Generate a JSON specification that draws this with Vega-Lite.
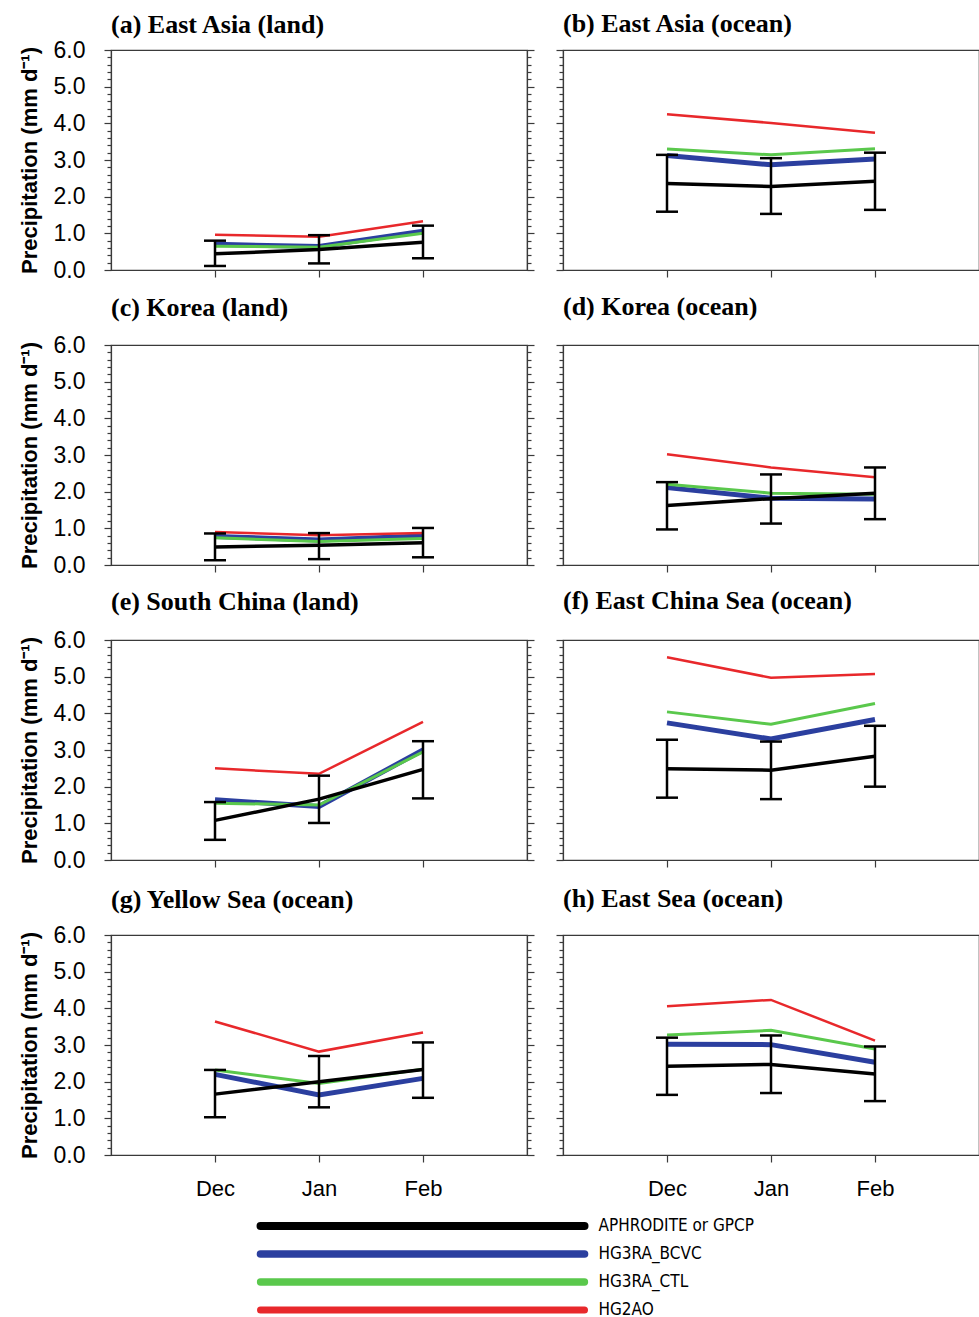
{
  "$schema": "https://vega.github.io/schema/vega-lite/v6.json",
  "padding": {"left": 17, "top": 10, "right": 0, "bottom": 0},
  "background": "white",
  "datasets": {
    "d": [
      {"p":"a","m":"Dec","s":"APHRODITE or GPCP","v":0.44},{"p":"a","m":"Jan","s":"APHRODITE or GPCP","v":0.56},{"p":"a","m":"Feb","s":"APHRODITE or GPCP","v":0.76},
      {"p":"a","m":"Dec","s":"HG3RA_BCVC","v":0.70},{"p":"a","m":"Jan","s":"HG3RA_BCVC","v":0.64},{"p":"a","m":"Feb","s":"HG3RA_BCVC","v":1.06},
      {"p":"a","m":"Dec","s":"HG3RA_CTL","v":0.65},{"p":"a","m":"Jan","s":"HG3RA_CTL","v":0.62},{"p":"a","m":"Feb","s":"HG3RA_CTL","v":1.00},
      {"p":"a","m":"Dec","s":"HG2AO","v":0.96},{"p":"a","m":"Jan","s":"HG2AO","v":0.91},{"p":"a","m":"Feb","s":"HG2AO","v":1.33},
      {"p":"a","m":"Dec","s":"err","lo":0.11,"hi":0.80},{"p":"a","m":"Jan","s":"err","lo":0.18,"hi":0.95},{"p":"a","m":"Feb","s":"err","lo":0.32,"hi":1.21},

      {"p":"b","m":"Dec","s":"APHRODITE or GPCP","v":2.36},{"p":"b","m":"Jan","s":"APHRODITE or GPCP","v":2.28},{"p":"b","m":"Feb","s":"APHRODITE or GPCP","v":2.42},
      {"p":"b","m":"Dec","s":"HG3RA_BCVC","v":3.12},{"p":"b","m":"Jan","s":"HG3RA_BCVC","v":2.87},{"p":"b","m":"Feb","s":"HG3RA_BCVC","v":3.03},
      {"p":"b","m":"Dec","s":"HG3RA_CTL","v":3.30},{"p":"b","m":"Jan","s":"HG3RA_CTL","v":3.14},{"p":"b","m":"Feb","s":"HG3RA_CTL","v":3.31},
      {"p":"b","m":"Dec","s":"HG2AO","v":4.25},{"p":"b","m":"Jan","s":"HG2AO","v":4.01},{"p":"b","m":"Feb","s":"HG2AO","v":3.74},
      {"p":"b","m":"Dec","s":"err","lo":1.59,"hi":3.14},{"p":"b","m":"Jan","s":"err","lo":1.53,"hi":3.05},{"p":"b","m":"Feb","s":"err","lo":1.64,"hi":3.20},

      {"p":"c","m":"Dec","s":"APHRODITE or GPCP","v":0.49},{"p":"c","m":"Jan","s":"APHRODITE or GPCP","v":0.54},{"p":"c","m":"Feb","s":"APHRODITE or GPCP","v":0.61},
      {"p":"c","m":"Dec","s":"HG3RA_BCVC","v":0.78},{"p":"c","m":"Jan","s":"HG3RA_BCVC","v":0.68},{"p":"c","m":"Feb","s":"HG3RA_BCVC","v":0.79},
      {"p":"c","m":"Dec","s":"HG3RA_CTL","v":0.74},{"p":"c","m":"Jan","s":"HG3RA_CTL","v":0.64},{"p":"c","m":"Feb","s":"HG3RA_CTL","v":0.72},
      {"p":"c","m":"Dec","s":"HG2AO","v":0.90},{"p":"c","m":"Jan","s":"HG2AO","v":0.81},{"p":"c","m":"Feb","s":"HG2AO","v":0.87},
      {"p":"c","m":"Dec","s":"err","lo":0.13,"hi":0.86},{"p":"c","m":"Jan","s":"err","lo":0.16,"hi":0.87},{"p":"c","m":"Feb","s":"err","lo":0.21,"hi":1.01},

      {"p":"d","m":"Dec","s":"APHRODITE or GPCP","v":1.62},{"p":"d","m":"Jan","s":"APHRODITE or GPCP","v":1.81},{"p":"d","m":"Feb","s":"APHRODITE or GPCP","v":1.96},
      {"p":"d","m":"Dec","s":"HG3RA_BCVC","v":2.11},{"p":"d","m":"Jan","s":"HG3RA_BCVC","v":1.82},{"p":"d","m":"Feb","s":"HG3RA_BCVC","v":1.80},
      {"p":"d","m":"Dec","s":"HG3RA_CTL","v":2.20},{"p":"d","m":"Jan","s":"HG3RA_CTL","v":1.96},{"p":"d","m":"Feb","s":"HG3RA_CTL","v":1.93},
      {"p":"d","m":"Dec","s":"HG2AO","v":3.02},{"p":"d","m":"Jan","s":"HG2AO","v":2.66},{"p":"d","m":"Feb","s":"HG2AO","v":2.39},
      {"p":"d","m":"Dec","s":"err","lo":0.97,"hi":2.26},{"p":"d","m":"Jan","s":"err","lo":1.13,"hi":2.47},{"p":"d","m":"Feb","s":"err","lo":1.25,"hi":2.66},

      {"p":"e","m":"Dec","s":"APHRODITE or GPCP","v":1.08},{"p":"e","m":"Jan","s":"APHRODITE or GPCP","v":1.66},{"p":"e","m":"Feb","s":"APHRODITE or GPCP","v":2.47},
      {"p":"e","m":"Dec","s":"HG3RA_BCVC","v":1.64},{"p":"e","m":"Jan","s":"HG3RA_BCVC","v":1.46},{"p":"e","m":"Feb","s":"HG3RA_BCVC","v":3.00},
      {"p":"e","m":"Dec","s":"HG3RA_CTL","v":1.55},{"p":"e","m":"Jan","s":"HG3RA_CTL","v":1.50},{"p":"e","m":"Feb","s":"HG3RA_CTL","v":2.95},
      {"p":"e","m":"Dec","s":"HG2AO","v":2.50},{"p":"e","m":"Jan","s":"HG2AO","v":2.35},{"p":"e","m":"Feb","s":"HG2AO","v":3.77},
      {"p":"e","m":"Dec","s":"err","lo":0.55,"hi":1.58},{"p":"e","m":"Jan","s":"err","lo":1.01,"hi":2.30},{"p":"e","m":"Feb","s":"err","lo":1.68,"hi":3.24},

      {"p":"f","m":"Dec","s":"APHRODITE or GPCP","v":2.49},{"p":"f","m":"Jan","s":"APHRODITE or GPCP","v":2.45},{"p":"f","m":"Feb","s":"APHRODITE or GPCP","v":2.83},
      {"p":"f","m":"Dec","s":"HG3RA_BCVC","v":3.74},{"p":"f","m":"Jan","s":"HG3RA_BCVC","v":3.30},{"p":"f","m":"Feb","s":"HG3RA_BCVC","v":3.83},
      {"p":"f","m":"Dec","s":"HG3RA_CTL","v":4.04},{"p":"f","m":"Jan","s":"HG3RA_CTL","v":3.70},{"p":"f","m":"Feb","s":"HG3RA_CTL","v":4.27},
      {"p":"f","m":"Dec","s":"HG2AO","v":5.53},{"p":"f","m":"Jan","s":"HG2AO","v":4.97},{"p":"f","m":"Feb","s":"HG2AO","v":5.07},
      {"p":"f","m":"Dec","s":"err","lo":1.70,"hi":3.28},{"p":"f","m":"Jan","s":"err","lo":1.66,"hi":3.23},{"p":"f","m":"Feb","s":"err","lo":2.00,"hi":3.66},

      {"p":"g","m":"Dec","s":"APHRODITE or GPCP","v":1.66},{"p":"g","m":"Jan","s":"APHRODITE or GPCP","v":2.00},{"p":"g","m":"Feb","s":"APHRODITE or GPCP","v":2.33},
      {"p":"g","m":"Dec","s":"HG3RA_BCVC","v":2.20},{"p":"g","m":"Jan","s":"HG3RA_BCVC","v":1.64},{"p":"g","m":"Feb","s":"HG3RA_BCVC","v":2.09},
      {"p":"g","m":"Dec","s":"HG3RA_CTL","v":2.32},{"p":"g","m":"Jan","s":"HG3RA_CTL","v":1.95},{"p":"g","m":"Feb","s":"HG3RA_CTL","v":2.34},
      {"p":"g","m":"Dec","s":"HG2AO","v":3.64},{"p":"g","m":"Jan","s":"HG2AO","v":2.82},{"p":"g","m":"Feb","s":"HG2AO","v":3.34},
      {"p":"g","m":"Dec","s":"err","lo":1.03,"hi":2.32},{"p":"g","m":"Jan","s":"err","lo":1.30,"hi":2.70},{"p":"g","m":"Feb","s":"err","lo":1.56,"hi":3.07},

      {"p":"h","m":"Dec","s":"APHRODITE or GPCP","v":2.42},{"p":"h","m":"Jan","s":"APHRODITE or GPCP","v":2.47},{"p":"h","m":"Feb","s":"APHRODITE or GPCP","v":2.21},
      {"p":"h","m":"Dec","s":"HG3RA_BCVC","v":3.02},{"p":"h","m":"Jan","s":"HG3RA_BCVC","v":3.01},{"p":"h","m":"Feb","s":"HG3RA_BCVC","v":2.53},
      {"p":"h","m":"Dec","s":"HG3RA_CTL","v":3.27},{"p":"h","m":"Jan","s":"HG3RA_CTL","v":3.40},{"p":"h","m":"Feb","s":"HG3RA_CTL","v":2.89},
      {"p":"h","m":"Dec","s":"HG2AO","v":4.06},{"p":"h","m":"Jan","s":"HG2AO","v":4.23},{"p":"h","m":"Feb","s":"HG2AO","v":3.12},
      {"p":"h","m":"Dec","s":"err","lo":1.64,"hi":3.20},{"p":"h","m":"Jan","s":"err","lo":1.69,"hi":3.26},{"p":"h","m":"Feb","s":"err","lo":1.47,"hi":2.96}
    ],
    "leg": [{"s":"APHRODITE or GPCP"},{"s":"HG3RA_BCVC"},{"s":"HG3RA_CTL"},{"s":"HG2AO"}]
  },
  "vconcat": [
    {
      "columns": 2,
      "spacing": {"row": 75, "column": 36},
      "bounds": "flush",
      "concat": [
        {
          "title": {"text": "(a) East Asia (land)", "offset": 1},
          "width": 416, "height": 220,
          "data": {"name": "d"},
          "transform": [{"filter": "datum.p === 'a'"}],
          "resolve": {"axis": {"x": "independent", "y": "independent"}},
          "layer": [
            {"transform": [{"filter": "datum.s === 'HG3RA_BCVC'"}], "mark": {"type": "line", "color": "#2b3f9f", "strokeWidth": 5},
             "encoding": {
               "x": {"field": "m", "type": "ordinal", "sort": ["Dec","Jan","Feb"], "scale": {"type": "point", "padding": 1}, "axis": {"orient": "bottom", "labels": false, "title": null, "tickSize": 7}},
               "y": {"field": "v", "type": "quantitative", "scale": {"domain": [0,6], "nice": false}, "axis": {"orient": "left", "values": [0,0.2,0.4,0.6,0.8,1,1.2,1.4,1.6,1.8,2,2.2,2.4,2.6,2.8,3,3.2,3.4,3.6,3.8,4,4.2,4.4,4.6,4.8,5,5.2,5.4,5.6,5.8,6], "labelExpr": "datum.value % 1 === 0 ? format(datum.value, '.1f') : ''", "labelOverlap": false, "labelPadding": 19, "tickSize": {"condition": {"test": "datum.value % 1 === 0", "value": 7}, "value": 4}, "title": "Precipitation (mm d⁻¹)", "titlePadding": 12}}}},
            {"transform": [{"filter": "datum.s === 'HG3RA_CTL'"}], "mark": {"type": "line", "color": "#5ac84c", "strokeWidth": 3},
             "encoding": {"x": {"field": "m", "type": "ordinal", "sort": ["Dec","Jan","Feb"], "scale": {"type": "point", "padding": 1}, "axis": null}, "y": {"field": "v", "type": "quantitative", "scale": {"domain": [0,6], "nice": false}, "axis": null}}},
            {"transform": [{"filter": "datum.s === 'HG2AO'"}], "mark": {"type": "line", "color": "#e8282b", "strokeWidth": 2.5},
             "encoding": {"x": {"field": "m", "type": "ordinal", "sort": ["Dec","Jan","Feb"], "scale": {"type": "point", "padding": 1}, "axis": null}, "y": {"field": "v", "type": "quantitative", "scale": {"domain": [0,6], "nice": false}, "axis": null}}},
            {"transform": [{"filter": "datum.s === 'APHRODITE or GPCP'"}], "mark": {"type": "line", "color": "#000000", "strokeWidth": 3.5},
             "encoding": {"x": {"field": "m", "type": "ordinal", "sort": ["Dec","Jan","Feb"], "scale": {"type": "point", "padding": 1}, "axis": null}, "y": {"field": "v", "type": "quantitative", "scale": {"domain": [0,6], "nice": false}, "axis": null}}},
            {"transform": [{"filter": "datum.s === 'err'"}], "mark": {"type": "rule", "color": "#000000", "strokeWidth": 2.5},
             "encoding": {"x": {"field": "m", "type": "ordinal", "sort": ["Dec","Jan","Feb"], "scale": {"type": "point", "padding": 1}, "axis": null}, "y": {"field": "lo", "type": "quantitative", "scale": {"domain": [0,6], "nice": false}, "axis": null}, "y2": {"field": "hi"}}},
            {"transform": [{"filter": "datum.s === 'err'"}], "mark": {"type": "tick", "color": "#000000", "size": 22, "thickness": 2.5, "opacity": 1},
             "encoding": {"x": {"field": "m", "type": "ordinal", "sort": ["Dec","Jan","Feb"], "scale": {"type": "point", "padding": 1}, "axis": null}, "y": {"field": "lo", "type": "quantitative", "scale": {"domain": [0,6], "nice": false}, "axis": {"orient": "right", "values": [0,0.2,0.4,0.6,0.8,1,1.2,1.4,1.6,1.8,2,2.2,2.4,2.6,2.8,3,3.2,3.4,3.6,3.8,4,4.2,4.4,4.6,4.8,5,5.2,5.4,5.6,5.8,6], "labels": false, "title": null, "tickSize": {"condition": {"test": "datum.value % 1 === 0", "value": 7}, "value": 4}}}}},
            {"transform": [{"filter": "datum.s === 'err'"}], "mark": {"type": "tick", "color": "#000000", "size": 22, "thickness": 2.5, "opacity": 1},
             "encoding": {"x": {"field": "m", "type": "ordinal", "sort": ["Dec","Jan","Feb"], "scale": {"type": "point", "padding": 1}, "axis": null}, "y": {"field": "hi", "type": "quantitative", "scale": {"domain": [0,6], "nice": false}, "axis": null}}}
          ]
        },
        {
          "title": {"text": "(b) East Asia (ocean)", "offset": 12.5},
          "width": 416, "height": 220,
          "data": {"name": "d"},
          "transform": [{"filter": "datum.p === 'b'"}],
          "resolve": {"axis": {"x": "independent", "y": "independent"}},
          "layer": [
            {"transform": [{"filter": "datum.s === 'HG3RA_BCVC'"}], "mark": {"type": "line", "color": "#2b3f9f", "strokeWidth": 5},
             "encoding": {
               "x": {"field": "m", "type": "ordinal", "sort": ["Dec","Jan","Feb"], "scale": {"type": "point", "padding": 1}, "axis": {"orient": "bottom", "labels": false, "title": null, "tickSize": 7}},
               "y": {"field": "v", "type": "quantitative", "scale": {"domain": [0,6], "nice": false}, "axis": {"orient": "left", "values": [0,0.2,0.4,0.6,0.8,1,1.2,1.4,1.6,1.8,2,2.2,2.4,2.6,2.8,3,3.2,3.4,3.6,3.8,4,4.2,4.4,4.6,4.8,5,5.2,5.4,5.6,5.8,6], "labels": false, "title": null, "tickSize": {"condition": {"test": "datum.value % 1 === 0", "value": 7}, "value": 4}}}}},
            {"transform": [{"filter": "datum.s === 'HG3RA_CTL'"}], "mark": {"type": "line", "color": "#5ac84c", "strokeWidth": 3},
             "encoding": {"x": {"field": "m", "type": "ordinal", "sort": ["Dec","Jan","Feb"], "scale": {"type": "point", "padding": 1}, "axis": null}, "y": {"field": "v", "type": "quantitative", "scale": {"domain": [0,6], "nice": false}, "axis": null}}},
            {"transform": [{"filter": "datum.s === 'HG2AO'"}], "mark": {"type": "line", "color": "#e8282b", "strokeWidth": 2.5},
             "encoding": {"x": {"field": "m", "type": "ordinal", "sort": ["Dec","Jan","Feb"], "scale": {"type": "point", "padding": 1}, "axis": null}, "y": {"field": "v", "type": "quantitative", "scale": {"domain": [0,6], "nice": false}, "axis": null}}},
            {"transform": [{"filter": "datum.s === 'APHRODITE or GPCP'"}], "mark": {"type": "line", "color": "#000000", "strokeWidth": 3.5},
             "encoding": {"x": {"field": "m", "type": "ordinal", "sort": ["Dec","Jan","Feb"], "scale": {"type": "point", "padding": 1}, "axis": null}, "y": {"field": "v", "type": "quantitative", "scale": {"domain": [0,6], "nice": false}, "axis": null}}},
            {"transform": [{"filter": "datum.s === 'err'"}], "mark": {"type": "rule", "color": "#000000", "strokeWidth": 2.5},
             "encoding": {"x": {"field": "m", "type": "ordinal", "sort": ["Dec","Jan","Feb"], "scale": {"type": "point", "padding": 1}, "axis": null}, "y": {"field": "lo", "type": "quantitative", "scale": {"domain": [0,6], "nice": false}, "axis": null}, "y2": {"field": "hi"}}},
            {"transform": [{"filter": "datum.s === 'err'"}], "mark": {"type": "tick", "color": "#000000", "size": 22, "thickness": 2.5, "opacity": 1},
             "encoding": {"x": {"field": "m", "type": "ordinal", "sort": ["Dec","Jan","Feb"], "scale": {"type": "point", "padding": 1}, "axis": null}, "y": {"field": "lo", "type": "quantitative", "scale": {"domain": [0,6], "nice": false}, "axis": null}}},
            {"transform": [{"filter": "datum.s === 'err'"}], "mark": {"type": "tick", "color": "#000000", "size": 22, "thickness": 2.5, "opacity": 1},
             "encoding": {"x": {"field": "m", "type": "ordinal", "sort": ["Dec","Jan","Feb"], "scale": {"type": "point", "padding": 1}, "axis": null}, "y": {"field": "hi", "type": "quantitative", "scale": {"domain": [0,6], "nice": false}, "axis": null}}}
          ]
        },
        {
          "title": {"text": "(c) Korea (land)", "offset": 13},
          "width": 416, "height": 220,
          "data": {"name": "d"},
          "transform": [{"filter": "datum.p === 'c'"}],
          "resolve": {"axis": {"x": "independent", "y": "independent"}},
          "layer": [
            {"transform": [{"filter": "datum.s === 'HG3RA_BCVC'"}], "mark": {"type": "line", "color": "#2b3f9f", "strokeWidth": 5},
             "encoding": {
               "x": {"field": "m", "type": "ordinal", "sort": ["Dec","Jan","Feb"], "scale": {"type": "point", "padding": 1}, "axis": {"orient": "bottom", "labels": false, "title": null, "tickSize": 7}},
               "y": {"field": "v", "type": "quantitative", "scale": {"domain": [0,6], "nice": false}, "axis": {"orient": "left", "values": [0,0.2,0.4,0.6,0.8,1,1.2,1.4,1.6,1.8,2,2.2,2.4,2.6,2.8,3,3.2,3.4,3.6,3.8,4,4.2,4.4,4.6,4.8,5,5.2,5.4,5.6,5.8,6], "labelExpr": "datum.value % 1 === 0 ? format(datum.value, '.1f') : ''", "labelOverlap": false, "labelPadding": 19, "tickSize": {"condition": {"test": "datum.value % 1 === 0", "value": 7}, "value": 4}, "title": "Precipitation (mm d⁻¹)", "titlePadding": 12}}}},
            {"transform": [{"filter": "datum.s === 'HG3RA_CTL'"}], "mark": {"type": "line", "color": "#5ac84c", "strokeWidth": 3},
             "encoding": {"x": {"field": "m", "type": "ordinal", "sort": ["Dec","Jan","Feb"], "scale": {"type": "point", "padding": 1}, "axis": null}, "y": {"field": "v", "type": "quantitative", "scale": {"domain": [0,6], "nice": false}, "axis": null}}},
            {"transform": [{"filter": "datum.s === 'HG2AO'"}], "mark": {"type": "line", "color": "#e8282b", "strokeWidth": 2.5},
             "encoding": {"x": {"field": "m", "type": "ordinal", "sort": ["Dec","Jan","Feb"], "scale": {"type": "point", "padding": 1}, "axis": null}, "y": {"field": "v", "type": "quantitative", "scale": {"domain": [0,6], "nice": false}, "axis": null}}},
            {"transform": [{"filter": "datum.s === 'APHRODITE or GPCP'"}], "mark": {"type": "line", "color": "#000000", "strokeWidth": 3.5},
             "encoding": {"x": {"field": "m", "type": "ordinal", "sort": ["Dec","Jan","Feb"], "scale": {"type": "point", "padding": 1}, "axis": null}, "y": {"field": "v", "type": "quantitative", "scale": {"domain": [0,6], "nice": false}, "axis": null}}},
            {"transform": [{"filter": "datum.s === 'err'"}], "mark": {"type": "rule", "color": "#000000", "strokeWidth": 2.5},
             "encoding": {"x": {"field": "m", "type": "ordinal", "sort": ["Dec","Jan","Feb"], "scale": {"type": "point", "padding": 1}, "axis": null}, "y": {"field": "lo", "type": "quantitative", "scale": {"domain": [0,6], "nice": false}, "axis": null}, "y2": {"field": "hi"}}},
            {"transform": [{"filter": "datum.s === 'err'"}], "mark": {"type": "tick", "color": "#000000", "size": 22, "thickness": 2.5, "opacity": 1},
             "encoding": {"x": {"field": "m", "type": "ordinal", "sort": ["Dec","Jan","Feb"], "scale": {"type": "point", "padding": 1}, "axis": null}, "y": {"field": "lo", "type": "quantitative", "scale": {"domain": [0,6], "nice": false}, "axis": {"orient": "right", "values": [0,0.2,0.4,0.6,0.8,1,1.2,1.4,1.6,1.8,2,2.2,2.4,2.6,2.8,3,3.2,3.4,3.6,3.8,4,4.2,4.4,4.6,4.8,5,5.2,5.4,5.6,5.8,6], "labels": false, "title": null, "tickSize": {"condition": {"test": "datum.value % 1 === 0", "value": 7}, "value": 4}}}}},
            {"transform": [{"filter": "datum.s === 'err'"}], "mark": {"type": "tick", "color": "#000000", "size": 22, "thickness": 2.5, "opacity": 1},
             "encoding": {"x": {"field": "m", "type": "ordinal", "sort": ["Dec","Jan","Feb"], "scale": {"type": "point", "padding": 1}, "axis": null}, "y": {"field": "hi", "type": "quantitative", "scale": {"domain": [0,6], "nice": false}, "axis": null}}}
          ]
        },
        {
          "title": {"text": "(d) Korea (ocean)", "offset": 24.5},
          "width": 416, "height": 220,
          "data": {"name": "d"},
          "transform": [{"filter": "datum.p === 'd'"}],
          "resolve": {"axis": {"x": "independent", "y": "independent"}},
          "layer": [
            {"transform": [{"filter": "datum.s === 'HG3RA_BCVC'"}], "mark": {"type": "line", "color": "#2b3f9f", "strokeWidth": 5},
             "encoding": {
               "x": {"field": "m", "type": "ordinal", "sort": ["Dec","Jan","Feb"], "scale": {"type": "point", "padding": 1}, "axis": {"orient": "bottom", "labels": false, "title": null, "tickSize": 7}},
               "y": {"field": "v", "type": "quantitative", "scale": {"domain": [0,6], "nice": false}, "axis": {"orient": "left", "values": [0,0.2,0.4,0.6,0.8,1,1.2,1.4,1.6,1.8,2,2.2,2.4,2.6,2.8,3,3.2,3.4,3.6,3.8,4,4.2,4.4,4.6,4.8,5,5.2,5.4,5.6,5.8,6], "labels": false, "title": null, "tickSize": {"condition": {"test": "datum.value % 1 === 0", "value": 7}, "value": 4}}}}},
            {"transform": [{"filter": "datum.s === 'HG3RA_CTL'"}], "mark": {"type": "line", "color": "#5ac84c", "strokeWidth": 3},
             "encoding": {"x": {"field": "m", "type": "ordinal", "sort": ["Dec","Jan","Feb"], "scale": {"type": "point", "padding": 1}, "axis": null}, "y": {"field": "v", "type": "quantitative", "scale": {"domain": [0,6], "nice": false}, "axis": null}}},
            {"transform": [{"filter": "datum.s === 'HG2AO'"}], "mark": {"type": "line", "color": "#e8282b", "strokeWidth": 2.5},
             "encoding": {"x": {"field": "m", "type": "ordinal", "sort": ["Dec","Jan","Feb"], "scale": {"type": "point", "padding": 1}, "axis": null}, "y": {"field": "v", "type": "quantitative", "scale": {"domain": [0,6], "nice": false}, "axis": null}}},
            {"transform": [{"filter": "datum.s === 'APHRODITE or GPCP'"}], "mark": {"type": "line", "color": "#000000", "strokeWidth": 3.5},
             "encoding": {"x": {"field": "m", "type": "ordinal", "sort": ["Dec","Jan","Feb"], "scale": {"type": "point", "padding": 1}, "axis": null}, "y": {"field": "v", "type": "quantitative", "scale": {"domain": [0,6], "nice": false}, "axis": null}}},
            {"transform": [{"filter": "datum.s === 'err'"}], "mark": {"type": "rule", "color": "#000000", "strokeWidth": 2.5},
             "encoding": {"x": {"field": "m", "type": "ordinal", "sort": ["Dec","Jan","Feb"], "scale": {"type": "point", "padding": 1}, "axis": null}, "y": {"field": "lo", "type": "quantitative", "scale": {"domain": [0,6], "nice": false}, "axis": null}, "y2": {"field": "hi"}}},
            {"transform": [{"filter": "datum.s === 'err'"}], "mark": {"type": "tick", "color": "#000000", "size": 22, "thickness": 2.5, "opacity": 1},
             "encoding": {"x": {"field": "m", "type": "ordinal", "sort": ["Dec","Jan","Feb"], "scale": {"type": "point", "padding": 1}, "axis": null}, "y": {"field": "lo", "type": "quantitative", "scale": {"domain": [0,6], "nice": false}, "axis": null}}},
            {"transform": [{"filter": "datum.s === 'err'"}], "mark": {"type": "tick", "color": "#000000", "size": 22, "thickness": 2.5, "opacity": 1},
             "encoding": {"x": {"field": "m", "type": "ordinal", "sort": ["Dec","Jan","Feb"], "scale": {"type": "point", "padding": 1}, "axis": null}, "y": {"field": "hi", "type": "quantitative", "scale": {"domain": [0,6], "nice": false}, "axis": null}}}
          ]
        },
        {
          "title": {"text": "(e) South China (land)", "offset": 14},
          "width": 416, "height": 220,
          "data": {"name": "d"},
          "transform": [{"filter": "datum.p === 'e'"}],
          "resolve": {"axis": {"x": "independent", "y": "independent"}},
          "layer": [
            {"transform": [{"filter": "datum.s === 'HG3RA_BCVC'"}], "mark": {"type": "line", "color": "#2b3f9f", "strokeWidth": 5},
             "encoding": {
               "x": {"field": "m", "type": "ordinal", "sort": ["Dec","Jan","Feb"], "scale": {"type": "point", "padding": 1}, "axis": {"orient": "bottom", "labels": false, "title": null, "tickSize": 7}},
               "y": {"field": "v", "type": "quantitative", "scale": {"domain": [0,6], "nice": false}, "axis": {"orient": "left", "values": [0,0.2,0.4,0.6,0.8,1,1.2,1.4,1.6,1.8,2,2.2,2.4,2.6,2.8,3,3.2,3.4,3.6,3.8,4,4.2,4.4,4.6,4.8,5,5.2,5.4,5.6,5.8,6], "labelExpr": "datum.value % 1 === 0 ? format(datum.value, '.1f') : ''", "labelOverlap": false, "labelPadding": 19, "tickSize": {"condition": {"test": "datum.value % 1 === 0", "value": 7}, "value": 4}, "title": "Precipitation (mm d⁻¹)", "titlePadding": 12}}}},
            {"transform": [{"filter": "datum.s === 'HG3RA_CTL'"}], "mark": {"type": "line", "color": "#5ac84c", "strokeWidth": 3},
             "encoding": {"x": {"field": "m", "type": "ordinal", "sort": ["Dec","Jan","Feb"], "scale": {"type": "point", "padding": 1}, "axis": null}, "y": {"field": "v", "type": "quantitative", "scale": {"domain": [0,6], "nice": false}, "axis": null}}},
            {"transform": [{"filter": "datum.s === 'HG2AO'"}], "mark": {"type": "line", "color": "#e8282b", "strokeWidth": 2.5},
             "encoding": {"x": {"field": "m", "type": "ordinal", "sort": ["Dec","Jan","Feb"], "scale": {"type": "point", "padding": 1}, "axis": null}, "y": {"field": "v", "type": "quantitative", "scale": {"domain": [0,6], "nice": false}, "axis": null}}},
            {"transform": [{"filter": "datum.s === 'APHRODITE or GPCP'"}], "mark": {"type": "line", "color": "#000000", "strokeWidth": 3.5},
             "encoding": {"x": {"field": "m", "type": "ordinal", "sort": ["Dec","Jan","Feb"], "scale": {"type": "point", "padding": 1}, "axis": null}, "y": {"field": "v", "type": "quantitative", "scale": {"domain": [0,6], "nice": false}, "axis": null}}},
            {"transform": [{"filter": "datum.s === 'err'"}], "mark": {"type": "rule", "color": "#000000", "strokeWidth": 2.5},
             "encoding": {"x": {"field": "m", "type": "ordinal", "sort": ["Dec","Jan","Feb"], "scale": {"type": "point", "padding": 1}, "axis": null}, "y": {"field": "lo", "type": "quantitative", "scale": {"domain": [0,6], "nice": false}, "axis": null}, "y2": {"field": "hi"}}},
            {"transform": [{"filter": "datum.s === 'err'"}], "mark": {"type": "tick", "color": "#000000", "size": 22, "thickness": 2.5, "opacity": 1},
             "encoding": {"x": {"field": "m", "type": "ordinal", "sort": ["Dec","Jan","Feb"], "scale": {"type": "point", "padding": 1}, "axis": null}, "y": {"field": "lo", "type": "quantitative", "scale": {"domain": [0,6], "nice": false}, "axis": {"orient": "right", "values": [0,0.2,0.4,0.6,0.8,1,1.2,1.4,1.6,1.8,2,2.2,2.4,2.6,2.8,3,3.2,3.4,3.6,3.8,4,4.2,4.4,4.6,4.8,5,5.2,5.4,5.6,5.8,6], "labels": false, "title": null, "tickSize": {"condition": {"test": "datum.value % 1 === 0", "value": 7}, "value": 4}}}}},
            {"transform": [{"filter": "datum.s === 'err'"}], "mark": {"type": "tick", "color": "#000000", "size": 22, "thickness": 2.5, "opacity": 1},
             "encoding": {"x": {"field": "m", "type": "ordinal", "sort": ["Dec","Jan","Feb"], "scale": {"type": "point", "padding": 1}, "axis": null}, "y": {"field": "hi", "type": "quantitative", "scale": {"domain": [0,6], "nice": false}, "axis": null}}}
          ]
        },
        {
          "title": {"text": "(f) East China Sea (ocean)", "offset": 25.5},
          "width": 416, "height": 220,
          "data": {"name": "d"},
          "transform": [{"filter": "datum.p === 'f'"}],
          "resolve": {"axis": {"x": "independent", "y": "independent"}},
          "layer": [
            {"transform": [{"filter": "datum.s === 'HG3RA_BCVC'"}], "mark": {"type": "line", "color": "#2b3f9f", "strokeWidth": 5},
             "encoding": {
               "x": {"field": "m", "type": "ordinal", "sort": ["Dec","Jan","Feb"], "scale": {"type": "point", "padding": 1}, "axis": {"orient": "bottom", "labels": false, "title": null, "tickSize": 7}},
               "y": {"field": "v", "type": "quantitative", "scale": {"domain": [0,6], "nice": false}, "axis": {"orient": "left", "values": [0,0.2,0.4,0.6,0.8,1,1.2,1.4,1.6,1.8,2,2.2,2.4,2.6,2.8,3,3.2,3.4,3.6,3.8,4,4.2,4.4,4.6,4.8,5,5.2,5.4,5.6,5.8,6], "labels": false, "title": null, "tickSize": {"condition": {"test": "datum.value % 1 === 0", "value": 7}, "value": 4}}}}},
            {"transform": [{"filter": "datum.s === 'HG3RA_CTL'"}], "mark": {"type": "line", "color": "#5ac84c", "strokeWidth": 3},
             "encoding": {"x": {"field": "m", "type": "ordinal", "sort": ["Dec","Jan","Feb"], "scale": {"type": "point", "padding": 1}, "axis": null}, "y": {"field": "v", "type": "quantitative", "scale": {"domain": [0,6], "nice": false}, "axis": null}}},
            {"transform": [{"filter": "datum.s === 'HG2AO'"}], "mark": {"type": "line", "color": "#e8282b", "strokeWidth": 2.5},
             "encoding": {"x": {"field": "m", "type": "ordinal", "sort": ["Dec","Jan","Feb"], "scale": {"type": "point", "padding": 1}, "axis": null}, "y": {"field": "v", "type": "quantitative", "scale": {"domain": [0,6], "nice": false}, "axis": null}}},
            {"transform": [{"filter": "datum.s === 'APHRODITE or GPCP'"}], "mark": {"type": "line", "color": "#000000", "strokeWidth": 3.5},
             "encoding": {"x": {"field": "m", "type": "ordinal", "sort": ["Dec","Jan","Feb"], "scale": {"type": "point", "padding": 1}, "axis": null}, "y": {"field": "v", "type": "quantitative", "scale": {"domain": [0,6], "nice": false}, "axis": null}}},
            {"transform": [{"filter": "datum.s === 'err'"}], "mark": {"type": "rule", "color": "#000000", "strokeWidth": 2.5},
             "encoding": {"x": {"field": "m", "type": "ordinal", "sort": ["Dec","Jan","Feb"], "scale": {"type": "point", "padding": 1}, "axis": null}, "y": {"field": "lo", "type": "quantitative", "scale": {"domain": [0,6], "nice": false}, "axis": null}, "y2": {"field": "hi"}}},
            {"transform": [{"filter": "datum.s === 'err'"}], "mark": {"type": "tick", "color": "#000000", "size": 22, "thickness": 2.5, "opacity": 1},
             "encoding": {"x": {"field": "m", "type": "ordinal", "sort": ["Dec","Jan","Feb"], "scale": {"type": "point", "padding": 1}, "axis": null}, "y": {"field": "lo", "type": "quantitative", "scale": {"domain": [0,6], "nice": false}, "axis": null}}},
            {"transform": [{"filter": "datum.s === 'err'"}], "mark": {"type": "tick", "color": "#000000", "size": 22, "thickness": 2.5, "opacity": 1},
             "encoding": {"x": {"field": "m", "type": "ordinal", "sort": ["Dec","Jan","Feb"], "scale": {"type": "point", "padding": 1}, "axis": null}, "y": {"field": "hi", "type": "quantitative", "scale": {"domain": [0,6], "nice": false}, "axis": null}}}
          ]
        },
        {
          "title": {"text": "(g) Yellow Sea (ocean)", "offset": 11},
          "width": 416, "height": 220,
          "data": {"name": "d"},
          "transform": [{"filter": "datum.p === 'g'"}],
          "resolve": {"axis": {"x": "independent", "y": "independent"}},
          "layer": [
            {"transform": [{"filter": "datum.s === 'HG3RA_BCVC'"}], "mark": {"type": "line", "color": "#2b3f9f", "strokeWidth": 5},
             "encoding": {
               "x": {"field": "m", "type": "ordinal", "sort": ["Dec","Jan","Feb"], "scale": {"type": "point", "padding": 1}, "axis": {"orient": "bottom", "labels": true, "labelAngle": 0, "labelFontSize": 22, "labelPadding": 16, "title": null, "tickSize": 7}},
               "y": {"field": "v", "type": "quantitative", "scale": {"domain": [0,6], "nice": false}, "axis": {"orient": "left", "values": [0,0.2,0.4,0.6,0.8,1,1.2,1.4,1.6,1.8,2,2.2,2.4,2.6,2.8,3,3.2,3.4,3.6,3.8,4,4.2,4.4,4.6,4.8,5,5.2,5.4,5.6,5.8,6], "labelExpr": "datum.value % 1 === 0 ? format(datum.value, '.1f') : ''", "labelOverlap": false, "labelPadding": 19, "tickSize": {"condition": {"test": "datum.value % 1 === 0", "value": 7}, "value": 4}, "title": "Precipitation (mm d⁻¹)", "titlePadding": 12}}}},
            {"transform": [{"filter": "datum.s === 'HG3RA_CTL'"}], "mark": {"type": "line", "color": "#5ac84c", "strokeWidth": 3},
             "encoding": {"x": {"field": "m", "type": "ordinal", "sort": ["Dec","Jan","Feb"], "scale": {"type": "point", "padding": 1}, "axis": null}, "y": {"field": "v", "type": "quantitative", "scale": {"domain": [0,6], "nice": false}, "axis": null}}},
            {"transform": [{"filter": "datum.s === 'HG2AO'"}], "mark": {"type": "line", "color": "#e8282b", "strokeWidth": 2.5},
             "encoding": {"x": {"field": "m", "type": "ordinal", "sort": ["Dec","Jan","Feb"], "scale": {"type": "point", "padding": 1}, "axis": null}, "y": {"field": "v", "type": "quantitative", "scale": {"domain": [0,6], "nice": false}, "axis": null}}},
            {"transform": [{"filter": "datum.s === 'APHRODITE or GPCP'"}], "mark": {"type": "line", "color": "#000000", "strokeWidth": 3.5},
             "encoding": {"x": {"field": "m", "type": "ordinal", "sort": ["Dec","Jan","Feb"], "scale": {"type": "point", "padding": 1}, "axis": null}, "y": {"field": "v", "type": "quantitative", "scale": {"domain": [0,6], "nice": false}, "axis": null}}},
            {"transform": [{"filter": "datum.s === 'err'"}], "mark": {"type": "rule", "color": "#000000", "strokeWidth": 2.5},
             "encoding": {"x": {"field": "m", "type": "ordinal", "sort": ["Dec","Jan","Feb"], "scale": {"type": "point", "padding": 1}, "axis": null}, "y": {"field": "lo", "type": "quantitative", "scale": {"domain": [0,6], "nice": false}, "axis": null}, "y2": {"field": "hi"}}},
            {"transform": [{"filter": "datum.s === 'err'"}], "mark": {"type": "tick", "color": "#000000", "size": 22, "thickness": 2.5, "opacity": 1},
             "encoding": {"x": {"field": "m", "type": "ordinal", "sort": ["Dec","Jan","Feb"], "scale": {"type": "point", "padding": 1}, "axis": null}, "y": {"field": "lo", "type": "quantitative", "scale": {"domain": [0,6], "nice": false}, "axis": {"orient": "right", "values": [0,0.2,0.4,0.6,0.8,1,1.2,1.4,1.6,1.8,2,2.2,2.4,2.6,2.8,3,3.2,3.4,3.6,3.8,4,4.2,4.4,4.6,4.8,5,5.2,5.4,5.6,5.8,6], "labels": false, "title": null, "tickSize": {"condition": {"test": "datum.value % 1 === 0", "value": 7}, "value": 4}}}}},
            {"transform": [{"filter": "datum.s === 'err'"}], "mark": {"type": "tick", "color": "#000000", "size": 22, "thickness": 2.5, "opacity": 1},
             "encoding": {"x": {"field": "m", "type": "ordinal", "sort": ["Dec","Jan","Feb"], "scale": {"type": "point", "padding": 1}, "axis": null}, "y": {"field": "hi", "type": "quantitative", "scale": {"domain": [0,6], "nice": false}, "axis": null}}}
          ]
        },
        {
          "title": {"text": "(h) East Sea (ocean)", "offset": 22.5},
          "width": 416, "height": 220,
          "data": {"name": "d"},
          "transform": [{"filter": "datum.p === 'h'"}],
          "resolve": {"axis": {"x": "independent", "y": "independent"}},
          "layer": [
            {"transform": [{"filter": "datum.s === 'HG3RA_BCVC'"}], "mark": {"type": "line", "color": "#2b3f9f", "strokeWidth": 5},
             "encoding": {
               "x": {"field": "m", "type": "ordinal", "sort": ["Dec","Jan","Feb"], "scale": {"type": "point", "padding": 1}, "axis": {"orient": "bottom", "labels": true, "labelAngle": 0, "labelFontSize": 22, "labelPadding": 16, "title": null, "tickSize": 7}},
               "y": {"field": "v", "type": "quantitative", "scale": {"domain": [0,6], "nice": false}, "axis": {"orient": "left", "values": [0,0.2,0.4,0.6,0.8,1,1.2,1.4,1.6,1.8,2,2.2,2.4,2.6,2.8,3,3.2,3.4,3.6,3.8,4,4.2,4.4,4.6,4.8,5,5.2,5.4,5.6,5.8,6], "labels": false, "title": null, "tickSize": {"condition": {"test": "datum.value % 1 === 0", "value": 7}, "value": 4}}}}},
            {"transform": [{"filter": "datum.s === 'HG3RA_CTL'"}], "mark": {"type": "line", "color": "#5ac84c", "strokeWidth": 3},
             "encoding": {"x": {"field": "m", "type": "ordinal", "sort": ["Dec","Jan","Feb"], "scale": {"type": "point", "padding": 1}, "axis": null}, "y": {"field": "v", "type": "quantitative", "scale": {"domain": [0,6], "nice": false}, "axis": null}}},
            {"transform": [{"filter": "datum.s === 'HG2AO'"}], "mark": {"type": "line", "color": "#e8282b", "strokeWidth": 2.5},
             "encoding": {"x": {"field": "m", "type": "ordinal", "sort": ["Dec","Jan","Feb"], "scale": {"type": "point", "padding": 1}, "axis": null}, "y": {"field": "v", "type": "quantitative", "scale": {"domain": [0,6], "nice": false}, "axis": null}}},
            {"transform": [{"filter": "datum.s === 'APHRODITE or GPCP'"}], "mark": {"type": "line", "color": "#000000", "strokeWidth": 3.5},
             "encoding": {"x": {"field": "m", "type": "ordinal", "sort": ["Dec","Jan","Feb"], "scale": {"type": "point", "padding": 1}, "axis": null}, "y": {"field": "v", "type": "quantitative", "scale": {"domain": [0,6], "nice": false}, "axis": null}}},
            {"transform": [{"filter": "datum.s === 'err'"}], "mark": {"type": "rule", "color": "#000000", "strokeWidth": 2.5},
             "encoding": {"x": {"field": "m", "type": "ordinal", "sort": ["Dec","Jan","Feb"], "scale": {"type": "point", "padding": 1}, "axis": null}, "y": {"field": "lo", "type": "quantitative", "scale": {"domain": [0,6], "nice": false}, "axis": null}, "y2": {"field": "hi"}}},
            {"transform": [{"filter": "datum.s === 'err'"}], "mark": {"type": "tick", "color": "#000000", "size": 22, "thickness": 2.5, "opacity": 1},
             "encoding": {"x": {"field": "m", "type": "ordinal", "sort": ["Dec","Jan","Feb"], "scale": {"type": "point", "padding": 1}, "axis": null}, "y": {"field": "lo", "type": "quantitative", "scale": {"domain": [0,6], "nice": false}, "axis": null}}},
            {"transform": [{"filter": "datum.s === 'err'"}], "mark": {"type": "tick", "color": "#000000", "size": 22, "thickness": 2.5, "opacity": 1},
             "encoding": {"x": {"field": "m", "type": "ordinal", "sort": ["Dec","Jan","Feb"], "scale": {"type": "point", "padding": 1}, "axis": null}, "y": {"field": "hi", "type": "quantitative", "scale": {"domain": [0,6], "nice": false}, "axis": null}}}
          ]
        }
      ]
    },
    {
      "width": 578, "height": 84,
      "view": {"stroke": null},
      "data": {"name": "leg"},
      "layer": [
        {"mark": {"type": "rule", "strokeCap": "round"},
         "encoding": {
           "x": {"datum": 0.2587, "type": "quantitative", "scale": {"domain": [0, 1], "nice": false, "zero": false}, "axis": null},
           "x2": {"datum": 0.8192},
           "y": {"field": "s", "type": "nominal", "sort": ["APHRODITE or GPCP","HG3RA_BCVC","HG3RA_CTL","HG2AO"], "scale": {"type": "point", "padding": 0}, "axis": null},
           "color": {"field": "s", "type": "nominal", "scale": {"domain": ["APHRODITE or GPCP","HG3RA_BCVC","HG3RA_CTL","HG2AO"], "range": ["#000000","#2b3f9f","#5ac84c","#e8282b"]}, "legend": null},
           "strokeWidth": {"field": "s", "type": "ordinal", "scale": {"domain": ["APHRODITE or GPCP","HG3RA_BCVC","HG3RA_CTL","HG2AO"], "range": [8, 7, 5, 4]}, "legend": null}
         }},
        {"mark": {"type": "text", "align": "left", "baseline": "middle", "dx": 14, "font": "Liberation Sans Narrow, DejaVu Sans Condensed, Liberation Sans", "fontSize": 17, "color": "#000000"},
         "encoding": {
           "x": {"datum": 0.8192, "type": "quantitative", "scale": {"domain": [0, 1], "nice": false, "zero": false}, "axis": null},
           "y": {"field": "s", "type": "nominal", "sort": ["APHRODITE or GPCP","HG3RA_BCVC","HG3RA_CTL","HG2AO"], "scale": {"type": "point", "padding": 0}, "axis": null},
           "text": {"field": "s"}
         }}
      ]
    }
  ],
  "spacing": 17,
  "config": {
    "font": "Liberation Sans",
    "view": {"stroke": "#3a3a3a", "strokeWidth": 1.2},
    "axis": {"grid": false, "domainColor": "#3a3a3a", "domainWidth": 1.2, "tickColor": "#3a3a3a", "tickWidth": 1.2, "labelFont": "Liberation Sans", "labelFontSize": 23, "labelColor": "#000000", "titleFont": "Liberation Sans", "titleFontSize": 22, "titleFontWeight": "bold", "titleColor": "#000000"},
    "title": {"font": "Liberation Serif", "fontSize": 26, "fontWeight": "bold", "anchor": "start", "frame": "group", "baseline": "alphabetic", "color": "#000000"}
  }
}
